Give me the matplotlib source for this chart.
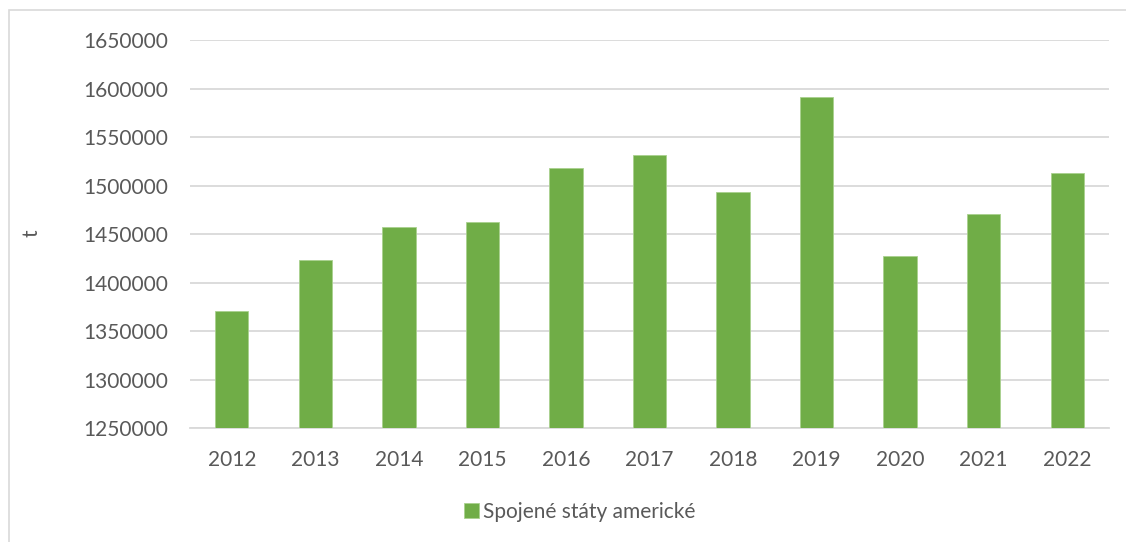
import numpy as np
import matplotlib.pyplot as plt
from matplotlib.patches import Rectangle

# data
years = ['2012', '2013', '2014', '2015', '2016', '2017', '2018', '2019', '2020', '2021', '2022']
values = [1370600, 1423000, 1457000, 1462000, 1518000, 1531000, 1493000, 1591000, 1427000, 1470600, 1513000]
series_name = 'Spojené státy americké'
yticks = [1250000, 1300000, 1350000, 1400000, 1450000, 1500000, 1550000, 1600000, 1650000]

text_color = '#595959'
bar_color = '#70ad47'
grid_color = '#d9d9d9'

plt.rcParams['font.family'] = ['Lato', 'DejaVu Sans']

W, H = 1126, 542
fig = plt.figure(figsize=(W / 100, H / 100), dpi=100)

# outer chart border (right and bottom are cut off in the reference)
fig.patches.append(Rectangle((9 / W, -0.1), 1.2, 1 - 10 / H + 0.1, transform=fig.transFigure,
                             fill=False, edgecolor=grid_color, linewidth=1.2))

ax = fig.add_axes([190 / W, 1 - 428 / H, (1109 - 190) / W, (428 - 40) / H])

x = np.arange(len(years))
ax.bar(x, values, width=0.4, color=bar_color, edgecolor='#a9d18e', linewidth=0.6,
       label=series_name, zorder=3)

ax.set_xlim(-0.5, len(years) - 0.5)
ax.set_ylim(yticks[0], yticks[-1])
ax.set_yticks(yticks)
ax.set_yticklabels([str(v) for v in yticks])
ax.set_xticks(x)
ax.set_xticklabels(years)

ax.yaxis.grid(True, color=grid_color, linewidth=1.3, zorder=0)
ax.tick_params(axis='both', length=0, labelsize=15, colors=text_color)
ax.tick_params(axis='y', pad=16)
ax.tick_params(axis='x', pad=16)
for side in ['top', 'right', 'left']:
    ax.spines[side].set_visible(False)
ax.spines['bottom'].set_color(grid_color)
ax.spines['bottom'].set_linewidth(1.3)

fig.text(32 / W, 1 - 233 / H, 't', rotation=90, ha='center', va='center',
         fontsize=15, color=text_color)

fig.legend(loc='center', bbox_to_anchor=(580 / W, 1 - 512 / H), frameon=False,
           fontsize=15, labelcolor=text_color, handlelength=0.7, handleheight=0.7,
           handletextpad=0.2)

fig.savefig('out.png', dpi=100, facecolor='white')
